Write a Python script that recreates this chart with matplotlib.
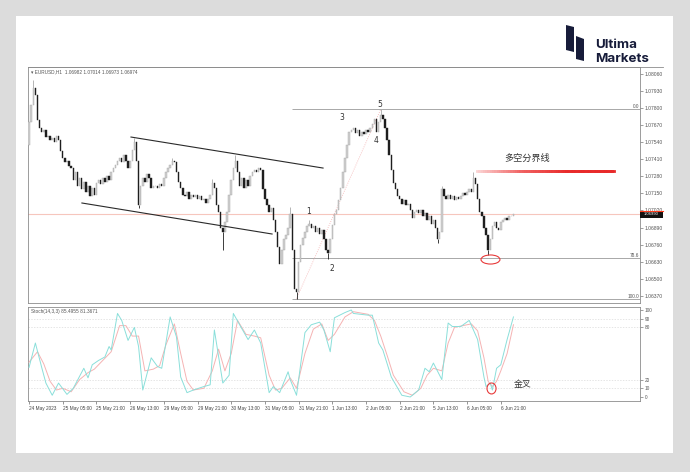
import matplotlib
matplotlib.use('Agg')
import matplotlib.pyplot as plt
from matplotlib.patches import Rectangle, Ellipse, Polygon
from matplotlib.collections import LineCollection
from matplotlib.lines import Line2D
from matplotlib.transforms import blended_transform_factory
import matplotlib.colors as mcolors
import numpy as np

# ---------------- data ----------------
first_open = 1.0752
closes = [
    1.0769, 1.0782, 1.0795, 1.0790, 1.0771, 1.0765, 1.0762, 1.0763, 1.0758, 1.0759,
    1.0756, 1.0757, 1.0754, 1.0759, 1.0756, 1.0747, 1.0742, 1.0739, 1.0740, 1.0736,
    1.0734, 1.0725, 1.0731, 1.0721, 1.0727, 1.0718, 1.0724, 1.0716, 1.0721, 1.0713,
    1.0719, 1.0714, 1.0723, 1.0725, 1.0722, 1.0727, 1.0724, 1.0728, 1.0725, 1.0731,
    1.0734, 1.0737, 1.0740, 1.0742, 1.0739, 1.0744, 1.0740, 1.0734, 1.0740, 1.0748,
    1.0754, 1.0740, 1.0706, 1.0721, 1.0727, 1.0724, 1.0730, 1.0727, 1.0719, 1.0721,
    1.0721, 1.0719, 1.0722, 1.0721, 1.0727, 1.0731, 1.0734, 1.0737, 1.0740, 1.0739,
    1.0731, 1.0724, 1.0719, 1.0714, 1.0713, 1.0716, 1.0711, 1.0714, 1.0712, 1.0714,
    1.0711, 1.0713, 1.0710, 1.0711, 1.0708, 1.0711, 1.0714, 1.0723, 1.0719, 1.0706,
    1.0701, 1.0689, 1.0686, 1.0693, 1.0701, 1.0714, 1.0725, 1.0734, 1.0740, 1.0731,
    1.0721, 1.0727, 1.0719, 1.0725, 1.0721, 1.0728, 1.0731, 1.0733, 1.0731, 1.0734,
    1.0733, 1.0718, 1.0711, 1.0706, 1.0701, 1.0704, 1.0695, 1.0686, 1.0674, 1.0661,
    1.0672, 1.0680, 1.0683, 1.0689, 1.0699, 1.0672, 1.0642, 1.0640, 1.0663, 1.0676,
    1.0681, 1.0686, 1.0690, 1.0692, 1.0689, 1.0690, 1.0686, 1.0689, 1.0684, 1.0687,
    1.0680, 1.0672, 1.0670, 1.0680, 1.0691, 1.0699, 1.0702, 1.0710, 1.0719, 1.0731,
    1.0742, 1.0752, 1.0762, 1.0763, 1.0765, 1.0761, 1.0763, 1.0759, 1.0762, 1.0760,
    1.0763, 1.0762, 1.0765, 1.0768, 1.0772, 1.0762, 1.0769, 1.0775, 1.0772, 1.0765,
    1.0756, 1.0744, 1.0733, 1.0723, 1.0718, 1.0713, 1.0711, 1.0707, 1.0710, 1.0706,
    1.0707, 1.0702, 1.0696, 1.0701, 1.0702, 1.0700, 1.0702, 1.0698, 1.0700, 1.0695,
    1.0698, 1.0692, 1.0695, 1.0689, 1.0680, 1.0686, 1.0718, 1.0713, 1.0711, 1.0714,
    1.0711, 1.0713, 1.0710, 1.0712, 1.0711, 1.0713, 1.0715, 1.0714, 1.0716, 1.0718,
    1.0716, 1.0727, 1.0722, 1.0711, 1.0701, 1.0698, 1.0689, 1.0683, 1.0672, 1.0680,
    1.0690, 1.0693, 1.0689, 1.0687, 1.0693, 1.0695, 1.0696, 1.0695, 1.0698, 1.0698,
    1.0699,
]
wick_high = {2: 1.0801, 50: 1.0757, 68: 1.0742, 87: 1.0726, 98: 1.0744, 124: 1.0705,
             133: 1.0695, 167: 1.0779, 196: 1.0721, 211: 1.0731}
wick_low = {52: 1.0704, 92: 1.0672, 127: 1.0635, 142: 1.0665, 194: 1.0677, 218: 1.0668}

k_idx = [0, 3, 6, 8, 11, 14, 18, 21, 26, 28, 30, 33, 36, 38, 39, 42, 44, 47, 50, 52,
         54, 58, 61, 63, 67, 70, 72, 75, 78, 83, 86, 88, 92, 95, 97, 100, 104, 107, 110, 114,
         116, 119, 123, 124, 127, 131, 134, 138, 140, 143, 145, 150, 153, 154, 161, 163, 166, 168, 172, 177,
         181, 185, 188, 190, 192, 196, 199, 201, 205, 209, 211, 213, 216, 217, 219, 220, 222, 224, 227, 230]
k_val = [34, 62, 34, 16, 2, 16, 3, 10, 33, 22, 37, 42, 46, 58, 54, 96, 88, 65, 80, 58,
         8, 45, 35, 33, 92, 69, 23, 5, 8, 12, 14, 77, 16, 25, 96, 83, 66, 77, 62, 5,
         12, 5, 29, 20, 2, 74, 83, 86, 77, 52, 91, 97, 100, 96, 94, 94, 62, 54, 23, 2,
         0, 8, 33, 29, 39, 20, 85, 81, 81, 88, 77, 66, 23, 12, 16, 8, 33, 37, 66, 92]
d_idx = [0, 4, 7, 10, 13, 16, 20, 24, 28, 31, 35, 39, 43, 46, 49, 52, 55, 59, 62, 65,
         69, 72, 75, 78, 83, 87, 90, 93, 96, 99, 103, 107, 110, 114, 117, 120, 124, 127, 131, 135,
         139, 142, 145, 150, 154, 161, 164, 167, 170, 173, 178, 182, 186, 189, 192, 196, 199, 202, 206, 210,
         213, 216, 218, 220, 222, 224, 227, 230]
d_val = [40, 52, 38, 18, 8, 10, 6, 20, 28, 32, 42, 52, 82, 82, 70, 70, 30, 32, 36, 60,
         84, 50, 18, 8, 10, 30, 55, 30, 50, 88, 72, 70, 68, 25, 8, 10, 22, 10, 50, 78,
         84, 65, 72, 92, 98, 95, 88, 70, 48, 25, 6, 2, 10, 25, 33, 30, 62, 80, 82, 84,
         76, 45, 18, 12, 18, 30, 50, 83]

time_label_idx = [0, 16, 32, 48, 64, 80, 96, 112, 128, 144, 160, 176, 192, 208, 224]
time_labels = ['24 May 2023', '25 May 05:00', '25 May 21:00', '26 May 13:00', '29 May 05:00',
               '29 May 21:00', '30 May 13:00', '31 May 05:00', '31 May 21:00', '1 Jun 13:00',
               '2 Jun 05:00', '2 Jun 21:00', '5 Jun 13:00', '6 Jun 05:00', '6 Jun 21:00']
price_ticks = [1.0806, 1.0793, 1.0780, 1.0767, 1.0754, 1.0741, 1.0728, 1.0715,
               1.0702, 1.0689, 1.0676, 1.0663, 1.0650, 1.0637]
stoch_ticks = [0, 10, 20, 80, 90, 100]
stoch_levels = [10, 20, 80, 90]

fib_low, fib_high = 1.0635, 1.0779
fib_start_idx, fib_high_idx, fib_low_idx = 125, 167, 127
fib_levels = [0.0, 78.6, 100.0]
channel_upper = [(48.4, 1.07579), (139.6, 1.07343)]
channel_lower = [(25.1, 1.07077), (115.4, 1.06841)]
divider_level = 1.07324
divider_span = (212.7, 277.8)
wave_labels = ['1', '2', '3', '4', '5']
wave_pos = [(132.5, 1.07016), (143.8, 1.06582), (148.6, 1.07724), (164.7, 1.07549), (166.6, 1.07823)]

SMALL = ['Liberation Sans', 'DejaVu Sans']

# ---------------- figure ----------------
W, H = 690, 472
fig = plt.figure(figsize=(6.9, 4.72), dpi=100, facecolor='#dcdcdc')


def fx(px):
    return px / W


def fy(py):
    return 1 - py / H


fig.patches.append(Rectangle((fx(16), fy(453)), fx(673) - fx(16), fy(16) - fy(453),
                             transform=fig.transFigure, facecolor='white', edgecolor='none', zorder=-5))

bar_px = 2.106
xmax = (640 - 28) / bar_px - 0.5
ax = fig.add_axes([fx(28), fy(303), fx(640) - fx(28), fy(67) - fy(303)])
ax2 = fig.add_axes([fx(28), fy(401), fx(640) - fx(28), fy(307) - fy(401)])
for a in (ax, ax2):
    a.set_zorder(2)
    a.set_facecolor('white')
    a.set_xlim(-0.5, xmax)
    for s in a.spines.values():
        s.set_color('#8c8c8c')
        s.set_linewidth(0.6)

ax.set_ylim(1.06316, 1.08112)
ax2.set_ylim(-4.6, 103.4)

# candles
n = len(closes)
idx = np.arange(n)
c = np.array(closes)
o = np.concatenate([[first_open], c[:-1]])
bull = c >= o
body_lo = np.minimum(o, c)
body_h = np.abs(c - o)
for i in range(n):
    hi = wick_high.get(i)
    lo = wick_low.get(i)
    col = '#a8a8a8' if bull[i] else '#1e1e1e'
    if hi is not None:
        ax.vlines(i, max(o[i], c[i]), hi, color=col, lw=0.6, zorder=2)
    if lo is not None:
        ax.vlines(i, lo, min(o[i], c[i]), color=col, lw=0.6, zorder=2)
ax.bar(idx[bull], body_h[bull], bottom=body_lo[bull], width=0.7,
       color='#d0d0d0', edgecolor='#a8a8a8', linewidth=0.3, zorder=3)
ax.bar(idx[~bull], body_h[~bull], bottom=body_lo[~bull], width=0.7,
       color='#1e1e1e', edgecolor='#1e1e1e', linewidth=0.3, zorder=3)

# current price line
ax.axhline(closes[-1], color='#f6c6bd', lw=0.8, zorder=1)

# fib lines
for lv in fib_levels:
    p = fib_high - (fib_high - fib_low) * lv / 100.0
    ax.hlines(p, fib_start_idx, xmax, color='#a8a8a8', lw=0.7, zorder=1)
    ax.text(0.998, p, f'{lv:.1f}', transform=blended_transform_factory(ax.transAxes, ax.transData),
            ha='right', va='bottom', fontsize=3.4, color='#555555', family=SMALL)
ax.plot([fib_low_idx, fib_high_idx], [fib_low, fib_high], color='#f3b0b0', lw=0.6, ls=':', zorder=1)

# channel
for ch in (channel_upper, channel_lower):
    ax.plot([ch[0][0], ch[1][0]], [ch[0][1], ch[1][1]], color='#2a2a2a', lw=0.8, zorder=4)

# divider gradient line
xs = np.linspace(divider_span[0], divider_span[1], 61)
segs = [[(xs[j], divider_level), (xs[j + 1], divider_level)] for j in range(60)]
cmap = mcolors.LinearSegmentedColormap.from_list('g', ['#fbd3d3', '#f06060', '#e82a2a', '#e82a2a'])
lc = LineCollection(segs, colors=[cmap(j / 59) for j in range(60)], linewidths=2.0, zorder=5,
                    capstyle='projecting')
ax.add_collection(lc)
ax.text(236.4, 1.07420, '多空分界线', fontsize=6.6, color='#333333', ha='center', va='center',
        family=['Noto Sans CJK SC', 'DejaVu Sans'], zorder=6)

# wave labels
for t, (xi, yp) in zip(wave_labels, wave_pos):
    ax.text(xi, yp, t, fontsize=5.5, color='#333333', ha='center', va='center', zorder=6)

# ellipse at low
ax.add_patch(Ellipse((219.1, 1.06647), 9.0, 0.00069, fill=False, edgecolor='#e83a3a', lw=0.8, zorder=6))

# price ticks
ax.yaxis.tick_right()
ax.set_yticks(price_ticks)
ax.set_yticklabels([f'{p:.5f}' for p in price_ticks], family=SMALL)
ax.tick_params(axis='y', labelsize=3.6, colors='#555555', length=2, width=0.4, pad=1.5)
ax.set_xticks([])

# price box
bt = blended_transform_factory(ax.transAxes, ax.transData)
bw = 23 / 612
ax.add_patch(Rectangle((1.0, closes[-1] - 0.00024), bw, 0.00048, transform=bt,
                       facecolor='#111111', edgecolor='none', clip_on=False, zorder=7))
ax.add_line(Line2D([1.0, 1.0 + bw], [closes[-1] + 0.00026] * 2, transform=bt, color='#ff3a1a',
                   lw=0.8, clip_on=False, zorder=7))
ax.text(1.0 + bw / 2, closes[-1], f'{closes[-1]:.5f}', transform=bt, fontsize=3.0, color='white',
        ha='center', va='center', zorder=8, clip_on=False, family=SMALL)

# stoch
for lv in stoch_levels:
    ax2.axhline(lv, color='#dadada', lw=0.5, ls=(0, (2, 2)), zorder=1)
ax2.plot(d_idx, d_val, color='#f5b3b3', lw=0.7, zorder=3)
ax2.plot(k_idx, k_val, color='#8adfda', lw=0.7, zorder=4)
ax2.add_patch(Ellipse((219.6, 9.8), 4.3, 12.6, fill=False, edgecolor='#e83a3a', lw=0.8, zorder=6))
ax2.text(230.3, 14.9, '金叉', fontsize=6.4, color='#333333', ha='left', va='center',
         family=['Noto Sans CJK SC', 'DejaVu Sans'], zorder=6)
ax2.yaxis.tick_right()
ax2.set_yticks(stoch_ticks)
ax2.set_yticklabels([str(v) for v in stoch_ticks], family=SMALL)
ax2.tick_params(axis='y', labelsize=3.4, colors='#555555', length=2, width=0.4, pad=1.5)
ax2.set_xticks(time_label_idx)
ax2.set_xticklabels(time_labels, ha='left', family=SMALL)
ax2.tick_params(axis='x', labelsize=3.4, colors='#444444', length=2, width=0.4, pad=1.5)

# headers
fig.text(fx(31), fy(71.5), '▾ EURUSD,H1  1.06982 1.07014 1.06973 1.06974', fontsize=3.4,
         color='#555555', va='center', ha='left', zorder=5, family=['Liberation Sans', 'DejaVu Sans'])
fig.text(fx(31), fy(311), 'Stoch(14,3,3) 85.4955 81.3671', fontsize=3.4, color='#555555',
         va='center', ha='left', zorder=5, family=SMALL)

# top border extending over price scale
fig.add_artist(Line2D([fx(28), fx(663)], [fy(67), fy(67)], transform=fig.transFigure,
                      color='#8c8c8c', lw=0.6, zorder=5))

# logo
navy = '#171c3a'
fig.patches.append(Polygon([(fx(566), fy(25)), (fx(574), fy(27)), (fx(574), fy(52)), (fx(566), fy(50))],
                           closed=True, transform=fig.transFigure, facecolor=navy, edgecolor='none'))
fig.patches.append(Polygon([(fx(576), fy(36)), (fx(584), fy(39)), (fx(584), fy(61)), (fx(576), fy(59))],
                           closed=True, transform=fig.transFigure, facecolor=navy, edgecolor='none'))
fig.text(fx(595), fy(48.5), 'Ultima', fontsize=9.6, fontweight='bold', color=navy,
         family=['Inter', 'DejaVu Sans'], va='baseline', ha='left')
fig.text(fx(595), fy(62.5), 'Markets', fontsize=9.6, fontweight='bold', color=navy,
         family=['Inter', 'DejaVu Sans'], va='baseline', ha='left')

fig.savefig('out.png', dpi=100, facecolor=fig.get_facecolor())
